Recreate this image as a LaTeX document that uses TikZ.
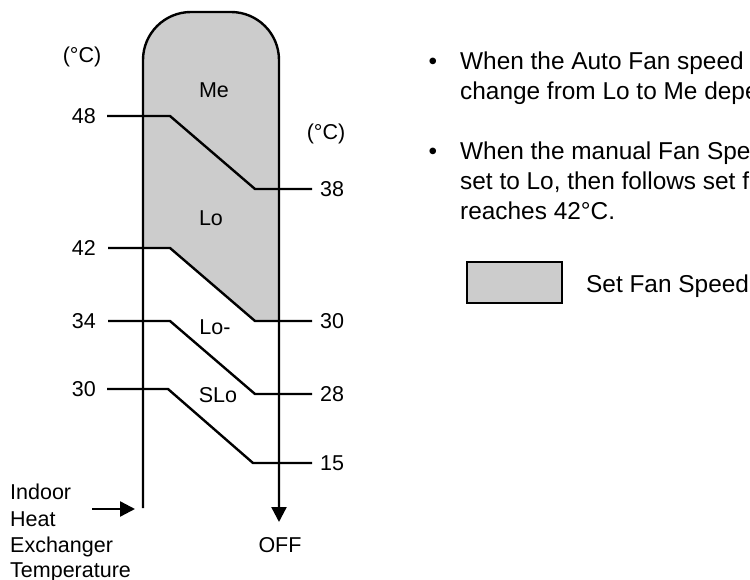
\documentclass[tikz,border=0pt]{standalone}
\usepackage{fontspec}
\setmainfont{Liberation Sans}
\usetikzlibrary{arrows.meta}
\definecolor{fanfill}{gray}{0.8}

\begin{document}
\begin{tikzpicture}[x=1pt, y=-1pt, line width=2.4pt,
    >={Triangle[length=15pt, width=15pt]},
    lbl/.style={font=\fontsize{21.5}{26}\selectfont, inner sep=0pt},
    note/.style={font=\fontsize{24.4}{30}\selectfont, inner sep=0pt, anchor=base west}]
  \useasboundingbox (0,0) rectangle (750,580);

  % Set fan speed zone (above the 42/30 line)
  \fill[fanfill] (143,248) -- (143,60) arc[start angle=180, end angle=270, radius=48]
    -- (231,12) arc[start angle=270, end angle=360, radius=48]
    -- (279,321) -- (255,321) -- (170,248) -- cycle;

  % Capsule outline, ending in the OFF arrow
  \coordinate (inlet) at (143,508);
  \coordinate (offtip) at (279,522);
  \draw[->] (inlet) -- (143,60) arc[start angle=180, end angle=270, radius=48]
    -- (231,12) arc[start angle=270, end angle=360, radius=48] -- (offtip);
  \node[lbl] (off) at (280,545) {OFF};

  % Switching lines: rising value on the left, falling value on the right
  \draw (107,116) node[lbl, left=10pt] (t48) {48}
    -- (170,116) -- (255,189) -- (312,189) node[lbl, right=7pt] (t38) {38};
  \draw (108,248) node[lbl, left=11pt] (t42) {42}
    -- (170,248) -- (255,321) -- (312,321) node[lbl, right=7pt] (t30r) {30};
  \draw (108,321) node[lbl, left=11pt] (t34) {34}
    -- (170,321) -- (255,394) -- (312,394) node[lbl, right=7pt] (t28) {28};
  \draw (107,389) node[lbl, left=10pt] (t30) {30}
    -- (168,389) -- (253,463) -- (312,463) node[lbl, right=7pt] (t15) {15};

  % Units
  \node[lbl] (unitl) at (82,57) {(°C)};
  \node[lbl] (unitr) at (326,134) {(°C)};

  % Fan speeds
  \node[lbl] (me) at (214,90) {Me};
  \node[lbl] (lo) at (211,218) {Lo};
  \node[lbl] (lominus) at (215,327) {Lo-};
  \node[lbl] (slo) at (218,395) {SLo};

  % Input: heat exchanger temperature
  \node[lbl, anchor=base west] (src1) at (9,499) {Indoor};
  \node[lbl, anchor=base west] (src2) at (9,526) {Heat};
  \node[lbl, anchor=base west] (src3) at (9,552) {Exchanger};
  \node[lbl, anchor=base west] (src4) at (9,577) {Temperature};
  \coordinate (srctail) at (92,509);
  \coordinate (srctip) at (135,509);
  \draw[->] (srctail) -- (srctip);

  % Notes
  \node[note, anchor=base] (dot1) at (433,70) {•};
  \node[note] (n1a) at (459,70) {When the Auto Fan speed};
  \node[note] (n1b) at (459,100) {change from Lo to Me depe};
  \node[note, anchor=base] (dot2) at (433,160) {•};
  \node[note] (n2a) at (459,160) {When the manual Fan Spe};
  \node[note] (n2b) at (459,190) {set to Lo, then follows set f};
  \node[note] (n2c) at (459,220) {reaches 42°C.};

  % Legend
  \node[draw, fill=fanfill, line width=1.2pt, inner sep=0pt,
    minimum width=95pt, minimum height=41pt] (key) at (514.5,282.5) {};
  \node[note] (keytxt) at (585,293) {Set Fan Speed};
\end{tikzpicture}
\end{document}
